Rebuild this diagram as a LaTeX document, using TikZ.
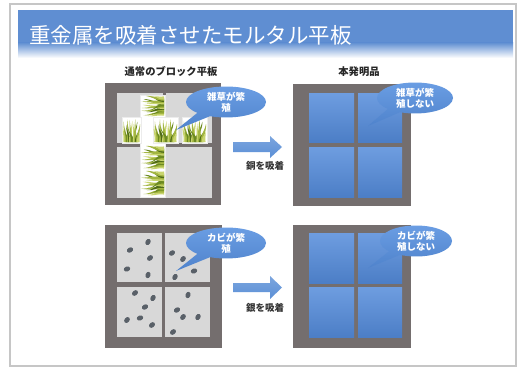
\documentclass[tikz,border=0pt]{standalone}
\usepackage{fontspec}
\setmainfont{Noto Sans CJK JP}
\usetikzlibrary{shapes.callouts,shapes.geometric}

\definecolor{frameC}{HTML}{746E6E}
\definecolor{paneTop}{HTML}{6E9DE0}
\definecolor{paneBot}{HTML}{4C7EC6}
\definecolor{grayPane}{HTML}{D8D8D8}
\definecolor{dotC}{HTML}{596068}
\definecolor{bubbleTop}{HTML}{6A9DE3}
\definecolor{bubbleBot}{HTML}{4F83CC}
\definecolor{bannerC}{HTML}{5F8ED2}
\definecolor{arrowC}{HTML}{5B8FD6}
\definecolor{grassA}{HTML}{A3B640}
\definecolor{grassB}{HTML}{6C8A22}
\definecolor{grassC}{HTML}{C8D46E}
\definecolor{grassD}{HTML}{4F6B18}

% one grass blade in a unit box, base at v=1
\newcommand\blade[4]{\fill[#4] (#1-0.08,1) .. controls (#1-0.05,0.6) and (#2-0.05,#3+0.3) .. (#2,#3) .. controls (#2+0.02,#3+0.35) and (#1+0.05,0.6) .. (#1+0.08,1) -- cycle;}
\newcommand\grassblades{%
  \blade{0.10}{0.00}{0.30}{grassC}
  \blade{0.18}{0.04}{0.10}{grassA}
  \blade{0.26}{0.12}{0.45}{grassB}
  \blade{0.30}{0.26}{0.02}{grassA}
  \blade{0.38}{0.20}{0.25}{grassD}
  \blade{0.42}{0.55}{0.08}{grassC}
  \blade{0.48}{0.40}{0.04}{grassA}
  \blade{0.55}{0.30}{0.32}{grassB}
  \blade{0.60}{0.84}{0.12}{grassB}
  \blade{0.66}{0.62}{0.20}{grassC}
  \blade{0.72}{0.72}{0.02}{grassA}
  \blade{0.78}{0.96}{0.40}{grassD}
  \blade{0.84}{1.00}{0.22}{grassA}
  \blade{0.90}{0.98}{0.55}{grassC}}
% upright tuft in box (x,y,w,h)
\newcommand\grassup[4]{\begin{scope}[shift={(#1,#2)},xscale=#3,yscale=#4]\grassblades\end{scope}}
% sideways tuft in box (x,y,w,h)
\newcommand\grassside[4]{\begin{scope}[shift={(#1,#2+#4)},rotate=90,xscale=#4,yscale=#3]\grassblades\end{scope}}

\tikzset{
  framebox/.style={rectangle,fill=frameC,inner sep=0pt},
  bluepane/.style={top color=paneTop,bottom color=paneBot},
  graypane/.style={fill=grayPane},
  tile/.style={fill=white,draw=gray!15,line width=0.3pt},
  spore/.style={fill=dotC},
  bubble/.style={ellipse callout,top color=bubbleTop,bottom color=bubbleBot,text=white,
    minimum width=80pt,minimum height=31pt,inner sep=0pt,align=center,
    callout pointer arc=22,font=\fontsize{9.5}{11}\selectfont\bfseries},
  heading/.style={font=\fontsize{10.3}{12}\selectfont\bfseries,text=black!85},
  caption/.style={font=\fontsize{9.5}{11}\selectfont\bfseries,text=black!80},
  blockarrow/.style={top color=arrowC!80,bottom color=arrowC,draw=none}
}

\begin{document}
\begin{tikzpicture}[x=1pt,y=-1pt]
\useasboundingbox (0,0) rectangle (525,367);
\fill[white] (0,0) rectangle (525,367);

% slide border
\draw[gray!45,line width=1.4pt] (10,4) rectangle (516,366);

% title banner
\fill[bannerC] (18,10) rectangle (513,43);
\shade[top color=bannerC,bottom color=white] (18,42.5) rectangle (513,58);
\node[anchor=west,text=white,font=\fontsize{21.5}{22}\selectfont,inner sep=0pt] (title) at (29,35.5) {重金属を吸着させたモルタル平板};

% column headings
\node[heading] (hleft) at (171,72) {通常のブロック平板};
\node[heading] (hright) at (359,72) {本発明品};

% ---- upper left: ordinary slab with weeds ----
\node[framebox,minimum width=116pt,minimum height=122pt] (fTL) at (163,144) {};
\fill[graypane] (117,93) rectangle (163,143);
\fill[graypane] (166,93) rectangle (212,143);
\fill[graypane] (117,147) rectangle (163,198);
\fill[graypane] (166,147) rectangle (212,198);
% weed tiles
\filldraw[tile] (140,95) rectangle (165,197);
\filldraw[tile] (122,117) rectangle (141,143);
\filldraw[tile] (153,117) rectangle (178,143);
\filldraw[tile] (182,117) rectangle (207,143);
\grassside{141}{96}{23}{20}
\grassup{123}{119}{17}{23}
\grassup{154}{119}{23}{23}
\grassup{183}{119}{23}{23}
\grassside{141}{146}{23}{23}
\grassside{141}{171}{23}{24}

% ---- upper right: invention ----
\node[framebox,minimum width=118pt,minimum height=122pt] (fTR) at (352,145) {};
\fill[bluepane] (309,93) rectangle (354,142);
\fill[bluepane] (358,93) rectangle (402,142);
\fill[bluepane] (309,147) rectangle (354,197);
\fill[bluepane] (358,147) rectangle (402,197);

% ---- lower left: ordinary slab with mould ----
\node[framebox,minimum width=117pt,minimum height=123pt] (fBL) at (163.5,286.5) {};
\fill[graypane] (117,233) rectangle (162,282);
\fill[graypane] (165,233) rectangle (210,282);
\fill[graypane] (117,287) rectangle (162,337);
\fill[graypane] (165,287) rectangle (210,337);
\foreach \px/\py/\r in {130/250/30,148/242/60,150/258/40,127/269/20,148/275/70,
    172/253/35,183/259/50,194/271/20,175/277/60,
    135/293/40,153/298/60,145/307/30,127/320/50,140/318/20,152/325/40,
    188/295/70,177/310/30,183/317/50,198/317/60,173/332/40}
  \fill[spore] (\px,\py) ellipse [x radius=3.3,y radius=2.5,rotate=\r];

% ---- lower right: invention ----
\node[framebox,minimum width=118pt,minimum height=123pt] (fBR) at (352,286.5) {};
\fill[bluepane] (309,233) rectangle (354,283);
\fill[bluepane] (358,233) rectangle (402,283);
\fill[bluepane] (309,287) rectangle (354,337);
\fill[bluepane] (358,287) rectangle (402,337);

% treatment arrows
\shade[blockarrow] (233,142) -- (270,142) -- (270,136) -- (282,147) -- (270,158) -- (270,152) -- (233,152) -- cycle;
\node[caption] (cu) at (265,166) {銅を吸着};
\shade[blockarrow] (233,283) -- (270,283) -- (270,276) -- (282,287.5) -- (270,299) -- (270,292) -- (233,292) -- cycle;
\node[caption] (ag) at (265,308) {銀を吸着};

% speech bubbles
\coordinate (weedspot) at (176,130);
\coordinate (weedfree) at (368,126);
\coordinate (mouldspot) at (176,271);
\coordinate (mouldfree) at (368,268);
\node[bubble,callout absolute pointer={(weedspot)}] (bTL) at (226,102) {雑草が繁\\殖};
\node[bubble,callout absolute pointer={(weedfree)},minimum width=76pt] (bTR) at (415,98) {雑草が繁\\殖しない};
\node[bubble,callout absolute pointer={(mouldspot)}] (bBL) at (226,243) {カビが繁\\殖};
\node[bubble,callout absolute pointer={(mouldfree)},minimum width=72pt] (bBR) at (416,241) {カビが繁\\殖しない};
\end{tikzpicture}
\end{document}
